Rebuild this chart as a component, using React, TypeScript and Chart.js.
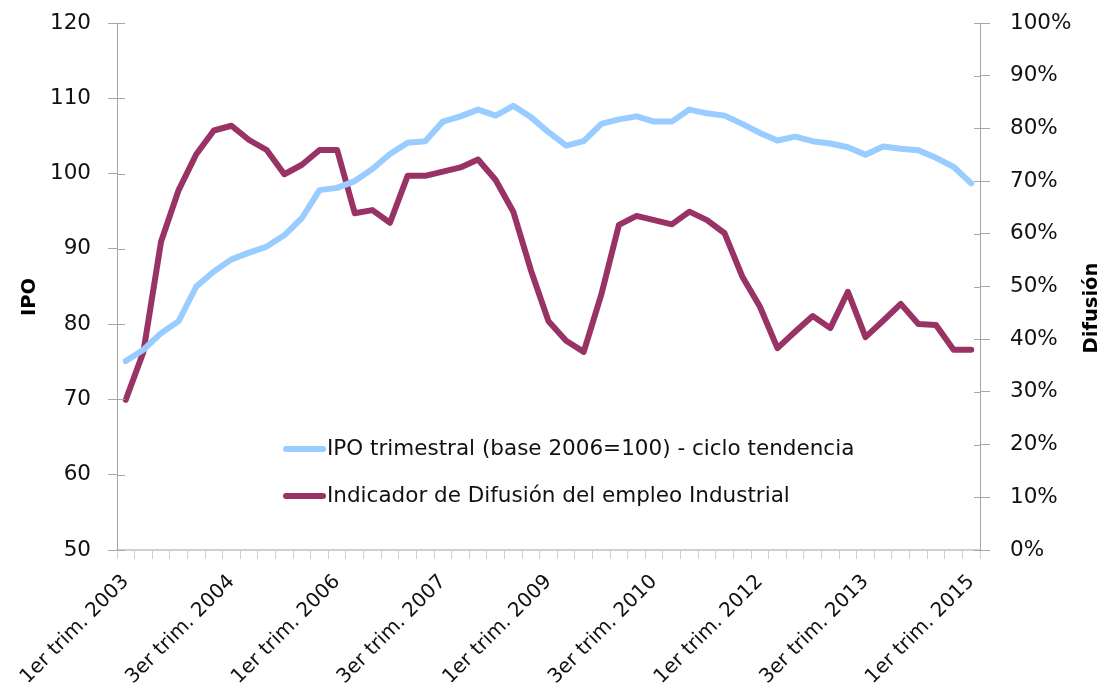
import React, { useEffect, useRef } from "react";
import { Chart, registerables } from "chart.js";

Chart.register(...registerables);

const quarters: string[] = [
  "1er trim. 2003", "2do trim. 2003", "3er trim. 2003", "4to trim. 2003",
  "1er trim. 2004", "2do trim. 2004", "3er trim. 2004", "4to trim. 2004",
  "1er trim. 2005", "2do trim. 2005", "3er trim. 2005", "4to trim. 2005",
  "1er trim. 2006", "2do trim. 2006", "3er trim. 2006", "4to trim. 2006",
  "1er trim. 2007", "2do trim. 2007", "3er trim. 2007", "4to trim. 2007",
  "1er trim. 2008", "2do trim. 2008", "3er trim. 2008", "4to trim. 2008",
  "1er trim. 2009", "2do trim. 2009", "3er trim. 2009", "4to trim. 2009",
  "1er trim. 2010", "2do trim. 2010", "3er trim. 2010", "4to trim. 2010",
  "1er trim. 2011", "2do trim. 2011", "3er trim. 2011", "4to trim. 2011",
  "1er trim. 2012", "2do trim. 2012", "3er trim. 2012", "4to trim. 2012",
  "1er trim. 2013", "2do trim. 2013", "3er trim. 2013", "4to trim. 2013",
  "1er trim. 2014", "2do trim. 2014", "3er trim. 2014", "4to trim. 2014",
  "1er trim. 2015",
];

const shownTickLabels: string[] = [
  "1er trim. 2003", "3er trim. 2004", "1er trim. 2006", "3er trim. 2007",
  "1er trim. 2009", "3er trim. 2010", "1er trim. 2012", "3er trim. 2013",
  "1er trim. 2015",
];

const ipoSeries: number[] = [
  75.1, 76.6, 78.8, 80.4, 85.0, 87.0, 88.6, 89.5, 90.3, 91.8,
  94.1, 97.8, 98.1, 99.0, 100.6, 102.6, 104.1, 104.3, 106.9, 107.6,
  108.5, 107.7, 109.0, 107.5, 105.5, 103.7, 104.3, 106.6, 107.2, 107.6,
  106.9, 106.9, 108.5, 108.0, 107.7, 106.6, 105.4, 104.4, 104.9, 104.3,
  104.0, 103.5, 102.5, 103.6, 103.3, 103.1, 102.1, 100.9, 98.7,
];

const difusionSeries: number[] = [
  28.5, 37.6, 58.5, 68.3, 75.1, 79.6, 80.5, 77.8, 75.9, 71.3,
  73.1, 75.9, 75.9, 63.9, 64.5, 62.1, 71.0, 71.0, 71.8, 72.6,
  74.1, 70.2, 64.2, 53.1, 43.4, 39.7, 37.6, 48.5, 61.7, 63.4,
  62.6, 61.8, 64.2, 62.6, 60.1, 51.9, 46.2, 38.3, 41.4, 44.4,
  42.1, 49.0, 40.4, 43.5, 46.7, 42.9, 42.7, 38.0, 38.0,
];

const seriesNames: string[] = [
  "IPO trimestral (base 2006=100) - ciclo tendencia",
  "Indicador de Difusión del empleo Industrial",
];

const leftTitle = "IPO";
const rightTitle = "Difusión";

const FONT = "'DejaVu Sans', sans-serif";
const AXIS_GRAY = "#a6a6a6";
const TXT = 21.5;

const decorPlugin = {
  id: "decor",
  afterDraw(chart: any) {
    const ctx = chart.ctx;
    const area = chart.chartArea;
    ctx.save();
    // inward tick marks
    ctx.strokeStyle = AXIS_GRAY;
    ctx.lineWidth = 1;
    const yL = chart.scales.y;
    const yR = chart.scales.y1;
    yL.ticks.forEach((_t: any, i: number) => {
      const py = Math.round(yL.getPixelForTick(i)) + 0.5;
      ctx.beginPath();
      ctx.moveTo(area.left, py);
      ctx.lineTo(area.left + 8, py);
      ctx.stroke();
    });
    yR.ticks.forEach((_t: any, i: number) => {
      const py = Math.round(yR.getPixelForTick(i)) + 0.5;
      ctx.beginPath();
      ctx.moveTo(area.right - 6, py);
      ctx.lineTo(area.right, py);
      ctx.stroke();
    });

    // legend inside chart area
    const lx = 275;
    const lys = [441, 488];
    chart.data.datasets.forEach((ds: any, i: number) => {
      const y = lys[i];
      ctx.strokeStyle = ds.borderColor;
      ctx.lineWidth = 6;
      ctx.lineCap = "round";
      ctx.beginPath();
      ctx.moveTo(lx + 3, y);
      ctx.lineTo(lx + 40, y);
      ctx.stroke();
      ctx.fillStyle = "#111";
      ctx.font = `${TXT}px ${FONT}`;
      ctx.textAlign = "left";
      ctx.textBaseline = "middle";
      ctx.fillText(ds.label, lx + 44, y);
    });

    // axis titles
    ctx.fillStyle = "#000";
    ctx.font = `bold 19.5px ${FONT}`;
    ctx.textAlign = "center";
    ctx.textBaseline = "middle";
    ctx.save();
    ctx.translate(22, 289);
    ctx.rotate(-Math.PI / 2);
    ctx.fillText(leftTitle, 0, 0);
    ctx.restore();
    ctx.save();
    ctx.translate(1084, 300);
    ctx.rotate(-Math.PI / 2);
    ctx.fillText(rightTitle, 0, 0);
    ctx.restore();
    ctx.restore();
  },
};

export default function App() {
  const ref = useRef<HTMLCanvasElement | null>(null);

  useEffect(() => {
    if (!ref.current) return;
    const chart = new Chart(ref.current, {
      type: "line",
      data: {
        labels: quarters,
        datasets: [
          {
            label: seriesNames[0],
            data: ipoSeries,
            yAxisID: "y",
            borderColor: "#99ccff",
            backgroundColor: "#99ccff",
            borderWidth: 6,
            pointRadius: 0,
            tension: 0,
            borderJoinStyle: "round",
            borderCapStyle: "round",
          },
          {
            label: seriesNames[1],
            data: difusionSeries,
            yAxisID: "y1",
            borderColor: "#993366",
            backgroundColor: "#993366",
            borderWidth: 6,
            pointRadius: 0,
            tension: 0,
            borderJoinStyle: "round",
            borderCapStyle: "round",
          },
        ],
      },
      options: {
        animation: false,
        responsive: true,
        maintainAspectRatio: false,
        layout: { padding: { top: 15, left: 0, right: 0, bottom: 0 } },
        plugins: {
          legend: { display: false },
          tooltip: { enabled: false },
        },
        scales: {
          x: {
            type: "category",
            offset: true,
            grid: {
              offset: true,
              drawOnChartArea: false,
              drawTicks: true,
              tickLength: 9,
              color: "#d0d0d0",
            },
            border: { color: "#d0d0d0", width: 2 },
            ticks: {
              autoSkip: false,
              maxRotation: 45,
              minRotation: 45,
              padding: 11,
              color: "#111",
              font: { family: FONT, size: 20 },
              callback: function (this: any, _v: any, i: number) {
                const lab = quarters[i];
                return shownTickLabels.includes(lab) ? lab : "";
              },
            },
            afterFit: (s: any) => {
              s.height = 139;
              s.paddingLeft = 0;
              s.paddingRight = 0;
            },
          },
          y: {
            position: "left",
            min: 50,
            max: 120,
            ticks: {
              stepSize: 10,
              padding: 17,
              color: "#111",
              font: { family: FONT, size: TXT },
            },
            grid: {
              drawOnChartArea: false,
              drawTicks: true,
              tickLength: 9,
              color: AXIS_GRAY,
            },
            border: { color: AXIS_GRAY },
            afterFit: (s: any) => {
              s.width = 109;
              s.paddingTop = 0;
              s.paddingBottom = 0;
            },
          },
          y1: {
            position: "right",
            min: 0,
            max: 100,
            ticks: {
              stepSize: 10,
              padding: 20,
              color: "#111",
              font: { family: FONT, size: TXT },
              callback: (v: any) => `${v}%`,
            },
            grid: {
              drawOnChartArea: false,
              drawTicks: true,
              tickLength: 10,
              color: AXIS_GRAY,
            },
            border: { color: AXIS_GRAY },
            afterFit: (s: any) => {
              s.width = 119;
              s.paddingTop = 0;
              s.paddingBottom = 0;
            },
          },
        },
      },
      plugins: [decorPlugin],
    } as any);
    return () => chart.destroy();
  }, []);

  return (
    <div style={{ position: "relative", width: 1091, height: 681 }}>
      <canvas ref={ref} />
    </div>
  );
}
